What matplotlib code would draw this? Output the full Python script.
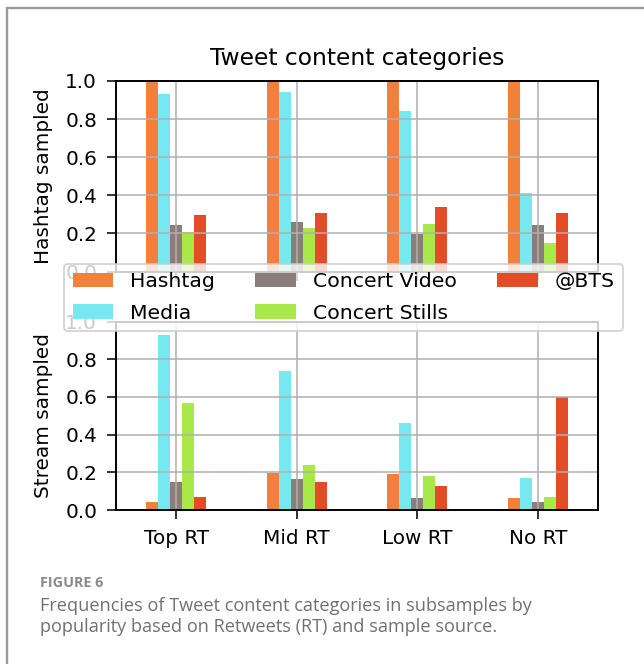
import matplotlib
matplotlib.use("Agg")
import matplotlib.pyplot as plt
import numpy as np
from matplotlib.patches import Rectangle

plt.rcParams["font.family"] = ["DejaVu Sans"]
plt.rcParams["font.size"] = 10

groups = ["Top RT", "Mid RT", "Low RT", "No RT"]
categories = ["Hashtag", "Media", "Concert Video", "Concert Stills", "@BTS"]
colors = ["#f0803a", "#78e8f0", "#8c7d7d", "#a8e848", "#e44c28"]

# rows = categories, cols = groups
hashtag_sampled = [
    [1.0, 1.0, 1.0, 1.0],
    [0.934, 0.943, 0.844, 0.41],
    [0.245, 0.262, 0.197, 0.245],
    [0.206, 0.227, 0.250, 0.152],
    [0.297, 0.306, 0.339, 0.309],
]
stream_sampled = [
    [0.041, 0.198, 0.191, 0.062],
    [0.929, 0.736, 0.464, 0.172],
    [0.149, 0.165, 0.064, 0.041],
    [0.566, 0.239, 0.181, 0.071],
    [0.071, 0.149, 0.129, 0.600],
]
yticks = [0.0, 0.2, 0.4, 0.6, 0.8, 1.0]

fig = plt.figure(figsize=(644 / 140, 664 / 140), dpi=140)
ax1 = fig.add_axes([116 / 644, 1 - 271.6 / 664, 482 / 644, 190.6 / 664])
ax2 = fig.add_axes([116 / 644, 1 - 510 / 664, 482 / 644, 188.5 / 664], sharex=ax1)

x = np.arange(len(groups))
w = 0.1
for ax, data in [(ax1, hashtag_sampled), (ax2, stream_sampled)]:
    for i, (cat, vals) in enumerate(zip(categories, data)):
        ax.bar(x + (i - 2) * w, vals, w, color=colors[i], label=cat)
    ax.set_ylim(0, 1.0)
    ax.set_xlim(-0.5, 3.5)
    ax.set_yticks(yticks)
    ax.set_yticklabels(["%.1f" % t for t in yticks])
    ax.grid(True)
    ax.set_xticks(x)
    ax.tick_params(labelsize=10.3, length=4.7, pad=5)
    for s in ax.spines.values():
        s.set_linewidth(1.0)

ax1.tick_params(labelbottom=False)
ax2.set_xticklabels(groups)
ax1.set_ylabel("Hashtag sampled", fontsize=10.3, labelpad=6)
ax2.set_ylabel("Stream sampled", fontsize=10.3, labelpad=6)
ax1.set_title("Tweet content categories", fontsize=12, pad=8)

handles, labels = ax1.get_legend_handles_labels()
fig.legend(handles, labels, ncol=3, loc="center", fontsize=10.5,
           labelspacing=0.6, bbox_to_anchor=(343.5 / 644, 1 - 297.5 / 664))

# card frame + caption
fig.patches.append(Rectangle((7 / 644, -0.05), 1.1, 1 - 8 / 664 + 0.05,
                             transform=fig.transFigure, fill=False,
                             edgecolor="#9a9a9a", linewidth=1.2))
fig.text(40 / 644, 1 - 583 / 664, "FIGURE 6", family="Open Sans",
         fontsize=7.4, fontweight="bold", color="#8a8a8a", va="center")
fig.text(40 / 644, 1 - 606 / 664,
         "Frequencies of Tweet content categories in subsamples by",
         family="Open Sans", fontsize=9.3, color="#707070", va="center")
fig.text(40 / 644, 1 - 627 / 664,
         "popularity based on Retweets (RT) and sample source.",
         family="Open Sans", fontsize=9.3, color="#707070", va="center")

fig.savefig("out.png", dpi=140)
